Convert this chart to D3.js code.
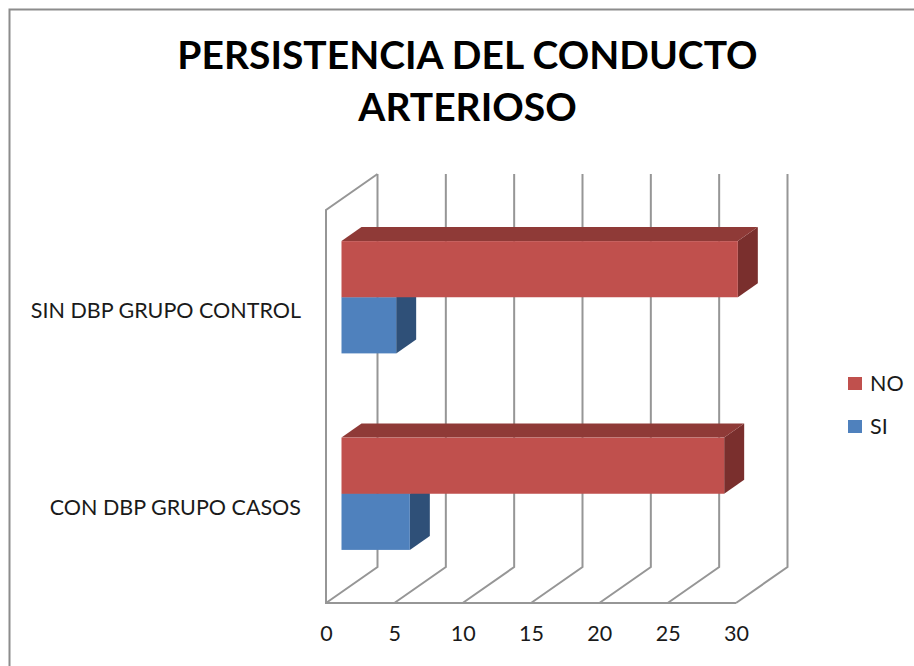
<!DOCTYPE html>
<html>
<head>
<meta charset="utf-8">
<script src="https://cdnjs.cloudflare.com/ajax/libs/d3/7.8.5/d3.min.js"></script>
<style>
  html, body { margin: 0; padding: 0; background: #fff; }
  svg { display: block; }
  text { font-family: Lato, "Noto Sans", sans-serif; fill: #1a1a1a; }
</style>
</head>
<body>
<div id="chart"></div>
<script>
// Data
var categories = ['SIN DBP GRUPO CONTROL', 'CON DBP GRUPO CASOS']
var seriesNames = ['NO', 'SI']
var noValues = [29, 28]
var siValues = [4, 5]
var xTicks = [0, 5, 10, 15, 20, 25, 30]
var titleLines = ['PERSISTENCIA DEL CONDUCTO', 'ARTERIOSO']

var width = 914
var height = 666

var colors = {
  NO: { front: '#c0504d', top: '#8f3a37', side: '#7a2f2d' },
  SI: { front: '#4f81bd', top: '#3a5f8c', side: '#2f5078' }
}
var gridColor = '#969696'
var labelSize = 21.5

// Front plane of the 3d box, plus how far the back wall is shifted
var plot = { left: 326, right: 736, top: 210, bottom: 603 }
var wall = { dx: 51.5, dy: -36 }
// Bars sit inside the box, they have their own depth
var barOffset = { dx: 15.5, dy: -11 }
var barDepth = { dx: 20, dy: -14 }

var xPositionScale = d3
  .scaleLinear()
  .domain([0, 30])
  .range([plot.left, plot.right])

var yPositionScale = d3
  .scaleBand()
  .domain(categories)
  .range([plot.top, plot.bottom])

var seriesScale = d3
  .scaleBand()
  .domain(seriesNames)
  .range([0, yPositionScale.bandwidth()])
  .paddingInner(0)
  .paddingOuter(0.75)

var svg = d3
  .select('#chart')
  .append('svg')
  .attr('width', width)
  .attr('height', height)

// Outer frame, only top and left show up in the crop
svg
  .append('path')
  .attr('d', `M${width},9.5H9.5V${height}`)
  .attr('fill', 'none')
  .attr('stroke', '#8c8c8c')
  .attr('stroke-width', 2)

// Title
svg
  .selectAll('.title')
  .data(titleLines)
  .enter()
  .append('text')
  .attr('class', 'title')
  .text(d => d)
  .attr('x', 467.5)
  .attr('y', (d, i) => 69 + i * 52)
  .attr('text-anchor', 'middle')
  .attr('font-size', 39)
  .attr('font-weight', 700)
  .style('fill', '#000')

// Gridlines, each one goes up the back wall and comes forward on the floor
var grid = svg.append('g').attr('class', 'grid')
grid
  .selectAll('path')
  .data(xTicks)
  .enter()
  .append('path')
  .attr('d', d => {
    var x = xPositionScale(d)
    var backX = x + wall.dx
    return `M${x},${plot.bottom}L${backX},${plot.bottom + wall.dy}V${plot.top + wall.dy}`
  })
  .attr('fill', 'none')
  .attr('stroke', gridColor)
  .attr('stroke-width', 2)

// Left wall and the floor front edge
grid
  .append('path')
  .attr(
    'd',
    `M${plot.left + wall.dx},${plot.top + wall.dy}L${plot.left},${plot.top}V${plot.bottom}H${plot.right}`
  )
  .attr('fill', 'none')
  .attr('stroke', gridColor)
  .attr('stroke-width', 2)

// Draw one 3d bar: side, top, front
function drawBar(g, category, name, value) {
  var x0 = xPositionScale(0) + barOffset.dx
  var x1 = xPositionScale(value) + barOffset.dx
  var y0 = yPositionScale(category) + seriesScale(name) + barOffset.dy
  var y1 = y0 + seriesScale.bandwidth()
  var dx = barDepth.dx
  var dy = barDepth.dy

  g.append('path')
    .attr('d', `M${x1},${y0}L${x1 + dx},${y0 + dy}V${y1 + dy}L${x1},${y1}Z`)
    .attr('fill', colors[name].side)
  g.append('path')
    .attr('d', `M${x0},${y0}L${x0 + dx},${y0 + dy}H${x1 + dx}L${x1},${y0}Z`)
    .attr('fill', colors[name].top)
  g.append('rect')
    .attr('x', x0)
    .attr('y', y0)
    .attr('width', x1 - x0)
    .attr('height', y1 - y0)
    .attr('fill', colors[name].front)
}

// SI goes first so the NO bar covers its top
var bars = svg.append('g').attr('class', 'bars')
categories.forEach((category, i) => {
  drawBar(bars, category, 'SI', siValues[i])
  drawBar(bars, category, 'NO', noValues[i])
})

// Axes, no lines of their own since the box draws them
var xAxis = d3
  .axisBottom(xPositionScale)
  .tickValues(xTicks)
  .tickSize(0)
  .tickPadding(0)
svg
  .append('g')
  .attr('class', 'axis x-axis')
  .attr('transform', `translate(0, ${plot.bottom + 23})`)
  .call(xAxis)
  .call(g => g.select('.domain').remove())
  .selectAll('text')
  .attr('font-size', labelSize)

var yAxis = d3
  .axisLeft(yPositionScale)
  .tickSize(0)
  .tickPadding(0)
svg
  .append('g')
  .attr('class', 'axis y-axis')
  .attr('transform', 'translate(301, 3)')
  .call(yAxis)
  .call(g => g.select('.domain').remove())
  .selectAll('text')
  .attr('font-size', labelSize)

// Legend
var legend = svg
  .selectAll('.legend-item')
  .data(seriesNames)
  .enter()
  .append('g')
  .attr('class', 'legend-item')
  .attr('transform', (d, i) => `translate(848, ${377 + i * 43})`)

legend
  .append('rect')
  .attr('width', 14)
  .attr('height', 13)
  .attr('fill', d => colors[d].front)

legend
  .append('text')
  .text(d => d)
  .attr('x', 22)
  .attr('y', 14)
  .attr('font-size', labelSize)
</script>
</body>
</html>
